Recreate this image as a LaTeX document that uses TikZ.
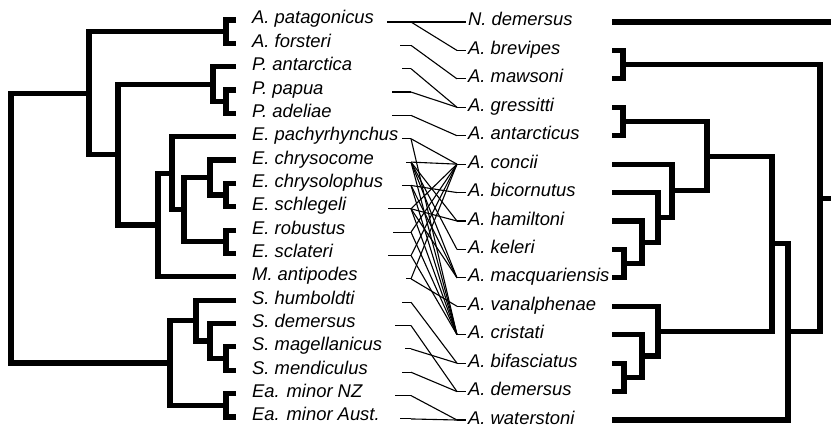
\documentclass[tikz,border=0pt]{standalone}
\usepackage{fontspec}
\setmainfont{Liberation Sans}
\tikzset{
  branch/.style ={line width=5.2pt, line join=miter},
  link/.style   ={line width=1.1pt},
  taxon/.style  ={font=\fontsize{18.4}{20}\selectfont\itshape, anchor=base west, inner sep=0pt},
}
\begin{document}
\begin{tikzpicture}[x=1pt,y=-1pt]
  \useasboundingbox (0,0) rectangle (831,427);

  % hosts, left
  \foreach \lbl/\s [count=\i from 0] in {A. patagonicus/387, A. forsteri/400, P. antarctica/402,
      P. papua/392, P. adeliae/392, E. pachyrhynchus/402, E. chrysocome/406, E. chrysolophus/402,
      E. schlegeli/388, E. robustus/393, E. sclateri/388, M. antipodes/406, S. humboldti/402,
      S. demersus/395, S. magellanicus/405, S. mendiculus/402, Ea. minor NZ/395, Ea. minor Aust./400} {
    \pgfmathsetmacro\y{20+23.35*\i}
    \node[taxon] (h\i) at (252,\y+4) {\lbl};
    \coordinate (hs\i) at (\s,\y+2);
    \coordinate (hk\i) at (411,\y+2);
    \draw[link] (hs\i) -- (hk\i);
  }

  % lice, right
  \foreach \lbl [count=\j from 0] in {N. demersus, A. brevipes, A. mawsoni, A. gressitti,
      A. antarcticus, A. concii, A. bicornutus, A. hamiltoni, A. keleri, A. macquariensis,
      A. vanalphenae, A. cristati, A. bifasciatus, A. demersus, A. waterstoni} {
    \pgfmathsetmacro\y{22+28.43*\j}
    \node[taxon] (p\j) at (468,\y+4) {\lbl};
    \coordinate (pk\j) at (457,\y);
    \coordinate (ps\j) at (466,\y);
    \draw[link] (pk\j) -- (ps\j);
  }

  \foreach \i/\j in {0/0, 0/1, 1/2, 2/3, 3/3, 4/4, 5/5, 5/11, 6/5, 6/7, 6/8, 6/9, 6/11,
      7/6, 7/9, 7/11, 8/7, 8/5, 8/9, 8/11, 9/5, 9/11, 10/5, 10/11, 11/5, 11/10,
      12/12, 13/13, 14/12, 15/13, 16/14, 17/14}
    \draw[link] (hk\i) -- (pk\j);

  % host tree
  \foreach \x/\ya/\xa/\yb/\xb in {226/20/236/43.35/236, 226/90.05/236/113.4/236,
      213/66.7/236/101.7/226, 226/183.45/236/206.8/236, 210/160.1/236/195.1/226,
      226/230.15/236/253.5/236, 184/177.6/210/241.8/226, 172/136.75/236/209.7/184,
      158/173.2/172/276.85/236, 118/84.2/213/225.0/158, 89/31.7/226/154.6/118,
      226/346.9/236/370.25/236, 210/323.55/236/358.6/226, 196/300.2/236/341.1/210,
      226/393.6/236/416.95/236, 170/320.6/196/405.3/226, 11/93.2/89/363.0/170}
    \draw[branch] (\xa,\ya) -| (\x,\yb) -- (\xb,\yb);

  % louse tree
  \foreach \x/\ya/\xa/\yb/\xb in {623/50.43/612/78.86/612, 623/107.29/612/135.72/612,
      624/249.44/612/277.87/612, 642/221.01/612/263.7/624, 658/192.58/612/242.4/642,
      672/164.15/612/217.5/658, 707/121.5/623/190.8/672, 624/363.16/612/391.59/612,
      642/334.73/612/377.4/624, 658/306.3/612/356.1/642, 772/156.2/707/331.2/658,
      788/243.7/772/420.02/612, 820/64.6/623/331.9/788}
    \draw[branch] (\xa,\ya) -| (\x,\yb) -- (\xb,\yb);
  \draw[branch] (820,198.2) -- (831,198.2);
  \draw[branch] (612,22) -- (831,22);
\end{tikzpicture}
\end{document}
